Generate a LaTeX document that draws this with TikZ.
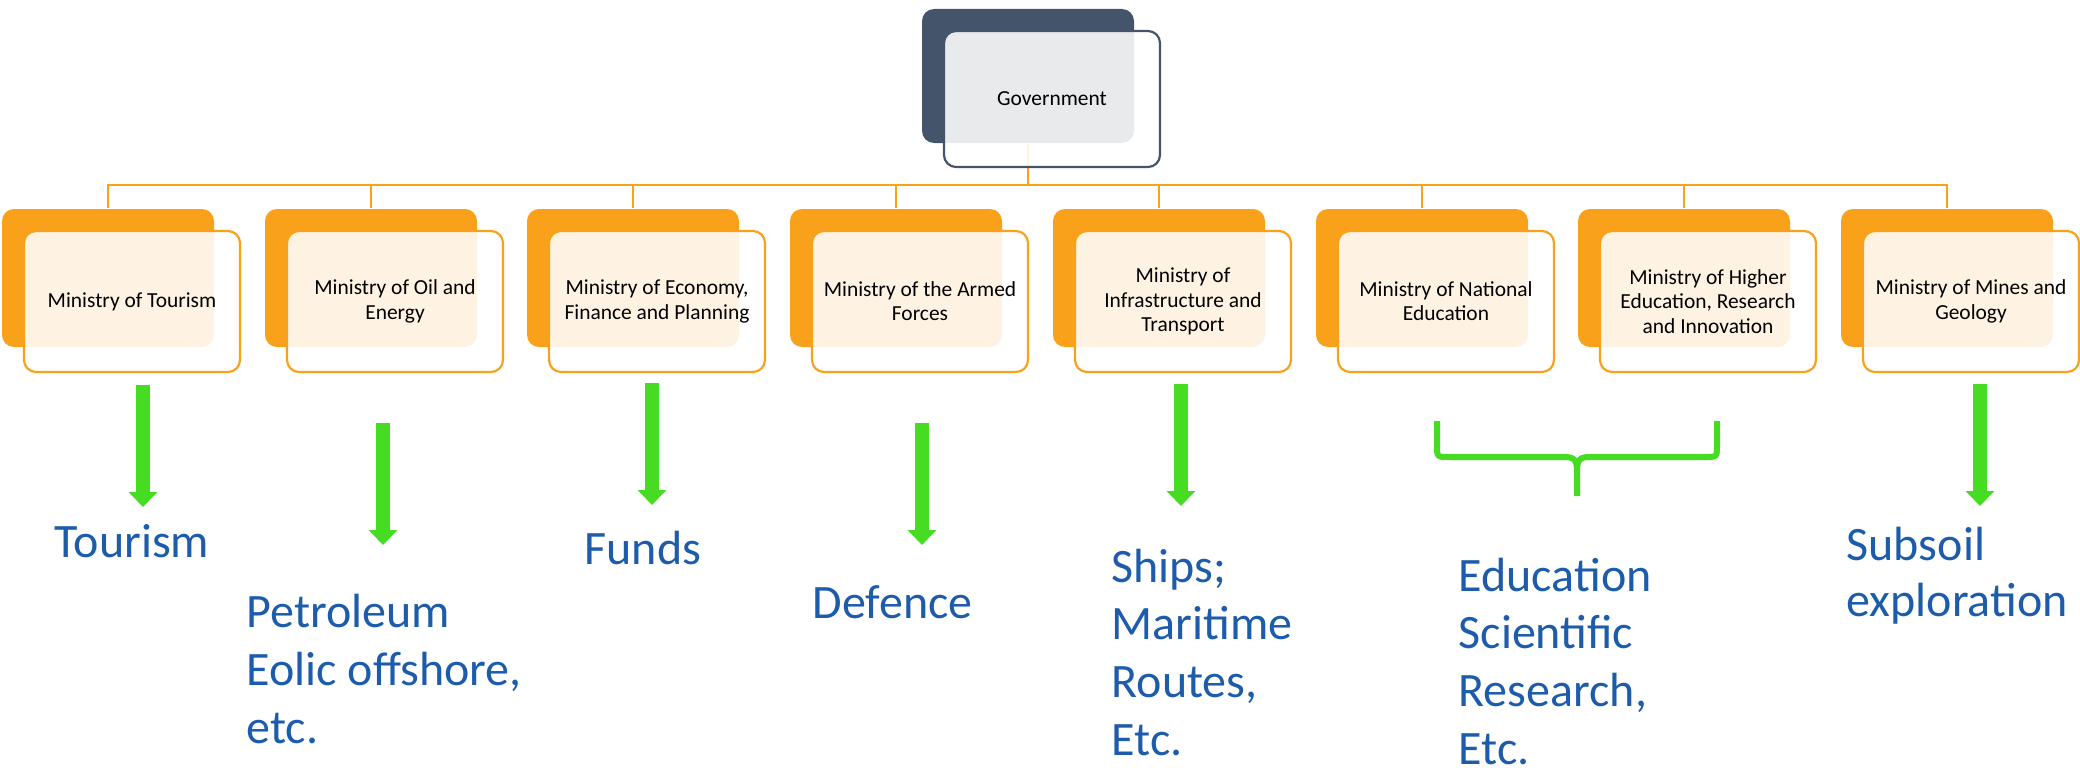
\documentclass[tikz,border=0pt]{standalone}
\usepackage{fontspec}
\setmainfont{Carlito}
\usetikzlibrary{arrows.meta}
\definecolor{orangemin}{HTML}{F9A11B}
\definecolor{bleugouv}{HTML}{44546A}
\definecolor{vert}{HTML}{45DC22}
\definecolor{bleutexte}{HTML}{1C5CAB}
\tikzset{
  dos/.style={fill=orangemin, rounded corners=0.12cm, minimum width=2.12cm, minimum height=1.38cm, inner sep=0pt},
  face/.style={draw=orangemin, line width=0.022cm, fill=white, fill opacity=0.88, text opacity=1, rounded corners=0.12cm,
    minimum width=2.16cm, minimum height=1.41cm, inner sep=0pt, align=center, font=\fontsize{6.1}{6.9}\selectfont},
  lien/.style={draw=orangemin, line width=0.02cm},
  fleche/.style={draw=vert, line width=0.14cm, -{Triangle[width=0.28cm,length=0.15cm]}},
  resultat/.style={anchor=base west, inner sep=0pt, align=left, text=bleutexte, font=\fontsize{13.66}{16.4}\selectfont},
}
\begin{document}
\begin{tikzpicture}
    \useasboundingbox (0,0) rectangle (20.8,-7.68);

    \node[dos, fill=bleugouv, minimum height=1.34cm] (0b) at (10.28,-0.76) {};
    \node[dos] (1b) at (1.08,-2.78) {};
    \node[dos] (2b) at (3.71,-2.78) {};
    \node[dos] (3b) at (6.33,-2.78) {};
    \node[dos] (4b) at (8.96,-2.78) {};
    \node[dos] (5b) at (11.59,-2.78) {};
    \node[dos] (6b) at (14.22,-2.78) {};
    \node[dos] (7b) at (16.84,-2.78) {};
    \node[dos] (8b) at (19.47,-2.78) {};

    \coordinate (bus) at (10.28,-1.85); % point de depart des branches
    \draw[lien] (0b.south) -- (bus);
    \draw[lien] (bus) -| (1b.north);
    \draw[lien] (bus) -| (2b.north);
    \draw[lien] (bus) -| (3b.north);
    \draw[lien] (bus) -| (4b.north);
    \draw[lien] (bus) -| (5b.north);
    \draw[lien] (bus) -| (6b.north);
    \draw[lien] (bus) -| (7b.north);
    \draw[lien] (bus) -| (8b.north);

    \node[face, draw=bleugouv, minimum height=1.36cm] (0) at (10.52,-0.99) {Government};
    \node[face] (1) at (1.32,-3.015) {Ministry of Tourism};
    \node[face] (2) at (3.95,-3.015) {Ministry of Oil and\\Energy};
    \node[face] (3) at (6.57,-3.015) {Ministry of Economy,\\Finance and Planning};
    \node[face] (4) at (9.20,-3.015) {Ministry of the Armed\\Forces};
    \node[face] (5) at (11.83,-3.015) {Ministry of\\Infrastructure and\\Transport};
    \node[face] (6) at (14.46,-3.015) {Ministry of National\\Education};
    \node[face] (7) at (17.08,-3.015) {Ministry of Higher\\Education, Research\\and Innovation};
    \node[face] (8) at (19.71,-3.015) {Ministry of Mines and\\Geology};

    % ancre sur la ligne de base de la derniere ligne
    \node[resultat] (t1) at (0.54,-5.57) {Tourism};
    \node[resultat] (t2) at (2.46,-7.43) {Petroleum\\Eolic offshore,\\etc.};
    \node[resultat] (t3) at (5.84,-5.64) {Funds};
    \node[resultat] (t4) at (8.12,-6.18) {Defence};
    \node[resultat] (t5) at (11.11,-7.55) {Ships;\\Maritime\\Routes,\\Etc.};
    \node[resultat] (t67) at (14.58,-7.64) {Education\\Scientific\\Research,\\Etc.};
    \node[resultat, font=\fontsize{13.66}{15.9}\selectfont] (t8) at (18.46,-6.16) {Subsoil\\exploration};

    \coordinate (s1) at (1.43,-3.85);   \coordinate (e1) at (1.43,-5.07);
    \coordinate (s2) at (3.83,-4.23);   \coordinate (e2) at (3.83,-5.45);
    \coordinate (s3) at (6.52,-3.83);   \coordinate (e3) at (6.52,-5.05);
    \coordinate (s4) at (9.22,-4.23);   \coordinate (e4) at (9.22,-5.45);
    \coordinate (s5) at (11.81,-3.84);  \coordinate (e5) at (11.81,-5.06);
    \coordinate (s8) at (19.80,-3.84);  \coordinate (e8) at (19.80,-5.06);
    \draw[fleche] (s1) -- (e1);
    \draw[fleche] (s2) -- (e2);
    \draw[fleche] (s3) -- (e3);
    \draw[fleche] (s4) -- (e4);
    \draw[fleche] (s5) -- (e5);
    \draw[fleche] (s8) -- (e8);

    % accolade sous les ministeres 6 et 7
    \coordinate (bg) at (14.37,-4.21);
    \coordinate (bd) at (17.17,-4.21);
    \coordinate (bm) at (15.77,-4.96);
    \draw[vert, line width=0.06cm]
      (bg) -- (14.37,-4.45) .. controls (14.37,-4.57) .. (14.49,-4.57) -- (15.65,-4.57)
      .. controls (15.77,-4.57) and (15.77,-4.63) .. (15.77,-4.75) -- (bm);
    \draw[vert, line width=0.06cm]
      (bd) -- (17.17,-4.45) .. controls (17.17,-4.57) .. (17.05,-4.57) -- (15.89,-4.57)
      .. controls (15.77,-4.57) and (15.77,-4.63) .. (15.77,-4.75);
\end{tikzpicture}
\end{document}
